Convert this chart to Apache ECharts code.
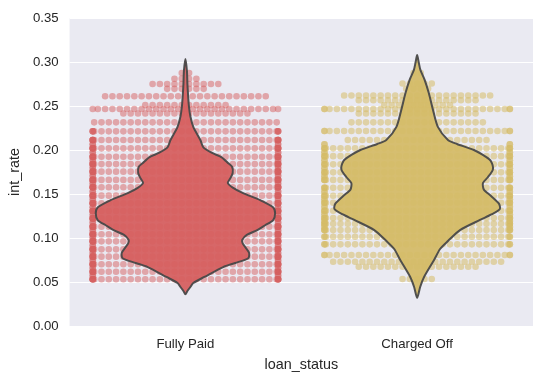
<!DOCTYPE html>
<html><head><meta charset="utf-8">
<script src="https://cdn.jsdelivr.net/npm/echarts@6/dist/echarts.min.js"></script>
<style>html,body{margin:0;padding:0;background:#fff}#c{width:542px;height:381px}</style>
</head><body><div id="c"></div>
<script>
// ---- data ----
const categories = ['Fully Paid', 'Charged Off'];
const yTicks = [0, 0.05, 0.10, 0.15, 0.20, 0.25, 0.30, 0.35];

// swarm rows: int_rate value of each row and number of points in it
const paidRowRates  = [0.2875, 0.281, 0.275, 0.2695, 0.261, 0.251, 0.2466, 0.2415, 0.2314,
  0.2212, 0.2114, 0.2019, 0.1924, 0.184, 0.1754, 0.166, 0.1576, 0.1481, 0.1394, 0.1307,
  0.1223, 0.1129, 0.1042, 0.0962, 0.0871, 0.0788, 0.0701, 0.0617, 0.0531];
const paidRowCounts = [2, 4, 10, 6, 23, 12, 27, 18, 26,
  32, 36, 36, 36, 36, 36, 36, 36, 36, 36, 36,
  36, 36, 36, 36, 36, 36, 36, 36, 36];
// points at in-between rates that the swarm pushed out to the band edges
const paidEdgeRates  = [0.2066, 0.1971, 0.1882, 0.1797, 0.1707, 0.1618, 0.1528, 0.1437, 0.135,
  0.1265, 0.1176, 0.1085, 0.1002, 0.0916, 0.083, 0.0745, 0.0659, 0.0574];
const paidEdgeCounts = [4, 4, 4, 4, 4, 4, 4, 4, 4, 4, 4, 4, 4, 4, 4, 4, 4, 4];

const chargedRowRates  = [0.2875, 0.2755, 0.2695, 0.262, 0.2565, 0.251, 0.2466, 0.2415, 0.2314,
  0.2216, 0.2114, 0.2019, 0.193, 0.1837, 0.1746, 0.166, 0.157, 0.148, 0.140, 0.131,
  0.1226, 0.1162, 0.109, 0.1015, 0.0928, 0.0807, 0.073, 0.0674, 0.0534];
const chargedRowCounts = [2, 5, 4, 21, 17, 10, 29, 17, 19,
  29, 20, 32, 32, 32, 32, 32, 32, 32, 32, 32,
  32, 32, 32, 30, 30, 29, 24, 17, 5];
const chargedEdgeRates  = [0.2066, 0.1975, 0.1884, 0.1792, 0.1703, 0.1525, 0.144, 0.1355,
  0.1268, 0.1194, 0.1126];
const chargedEdgeCounts = [4, 4, 4, 4, 4, 4, 4, 4, 4, 4, 4];

// violin outline: int_rate and half width (share of the category band)
const paidViolinRates  = [0.3034, 0.29, 0.275, 0.265, 0.25, 0.238, 0.226, 0.2114, 0.203, 0.1966,
  0.192, 0.185, 0.1807, 0.1739, 0.168, 0.1625, 0.157, 0.151, 0.143, 0.135, 0.128, 0.120,
  0.1145, 0.109, 0.1035, 0.0977, 0.094, 0.0898, 0.083, 0.077, 0.0716, 0.067, 0.0557,
  0.0489, 0.0443, 0.0398, 0.036];
const paidViolinWidths = [0, 0.0065, 0.0086, 0.0108, 0.015, 0.0215, 0.0344, 0.0645, 0.0774, 0.116,
  0.155, 0.185, 0.202, 0.204, 0.194, 0.183, 0.206, 0.249, 0.323, 0.378, 0.387, 0.378,
  0.344, 0.31, 0.265, 0.245, 0.247, 0.258, 0.275, 0.271, 0.215, 0.163, 0.082,
  0.034, 0.0215, 0.0086, 0];

const chargedViolinRates  = [0.308, 0.30, 0.291, 0.28, 0.265, 0.245, 0.226, 0.2114, 0.2068, 0.20,
  0.1922, 0.1875, 0.178, 0.169, 0.1625, 0.155, 0.148, 0.139, 0.133, 0.127, 0.1205,
  0.109, 0.0966, 0.0875, 0.075, 0.0557, 0.0443, 0.032];
const chargedViolinWidths = [0, 0.0065, 0.014, 0.032, 0.05, 0.069, 0.09, 0.133, 0.172, 0.245,
  0.297, 0.318, 0.327, 0.305, 0.284, 0.288, 0.318, 0.353, 0.357, 0.323, 0.271,
  0.185, 0.133, 0.099, 0.073, 0.030, 0.013, 0];

// ---- chart ----
const violinRates = [paidViolinRates, chargedViolinRates];
const violinWidths = [paidViolinWidths, chargedViolinWidths];
const fills = ['#d65f5f', '#d5bb67'];
const pointColors = ['rgba(214,95,95,0.5)', 'rgba(213,187,103,0.55)'];

function rowsData(cat, rates, counts, edgeRates, edgeCounts) {
  return rates.map((r, i) => [cat, r, counts[i], 0])
    .concat(edgeRates.map((r, i) => [cat, r, edgeCounts[i], 1]));
}

function swarmRender(params, api) {
  const cat = api.value(0), rate = api.value(1), n = api.value(2), edgeOnly = api.value(3);
  const c = api.coord([cat, rate]);
  const band = api.size([1, 0])[0];
  const half = band * 0.4;
  const step = 7.3;
  const children = [];
  for (let i = 0; i < n; i++) {
    let off;
    if (edgeOnly) {
      off = (i % 2 === 0) ? half : -half;
    } else {
      off = (i - (n - 1) / 2) * step;
      if (off > half) off = half;
      if (off < -half) off = -half;
    }
    children.push({
      type: 'circle',
      shape: { cx: c[0] + off, cy: c[1], r: 3.3 },
      style: { fill: pointColors[cat] }
    });
  }
  return { type: 'group', children };
}

function violinRender(params, api) {
  const cat = api.value(0);
  const rates = violinRates[cat], widths = violinWidths[cat];
  const band = api.size([1, 0])[0];
  const pts = [];
  for (let i = 0; i < rates.length; i++) {
    const p = api.coord([cat, rates[i]]);
    pts.push([p[0] + widths[i] * band, p[1]]);
  }
  for (let i = rates.length - 2; i > 0; i--) {
    const p = api.coord([cat, rates[i]]);
    pts.push([p[0] - widths[i] * band, p[1]]);
  }
  return {
    type: 'polygon',
    shape: { points: pts, smooth: 0.25 },
    style: { fill: fills[cat], opacity: 0.94, stroke: '#474747', lineWidth: 2 }
  };
}

const chart = echarts.init(document.getElementById('c'), null, { renderer: 'canvas' });
chart.setOption({
  animation: false,
  backgroundColor: '#ffffff',
  textStyle: { fontFamily: 'Liberation Sans, Arial, sans-serif' },
  grid: { left: 68, right: 9, top: 18, bottom: 55, show: true, backgroundColor: '#eaeaf2', borderWidth: 0 },
  xAxis: {
    type: 'category', data: categories,
    axisLine: { show: false }, axisTick: { show: false }, splitLine: { show: false },
    axisLabel: { color: '#262626', fontSize: 13.2, margin: 12 },
    name: 'loan_status', nameLocation: 'middle', nameGap: 32,
    nameTextStyle: { color: '#262626', fontSize: 14.4 }
  },
  yAxis: {
    type: 'value', min: yTicks[0], max: yTicks[yTicks.length - 1], interval: 0.05,
    axisLine: { show: false }, axisTick: { show: false },
    splitLine: { show: true, lineStyle: { color: '#ffffff', width: 1.2 } },
    axisLabel: { color: '#262626', fontSize: 13.2, margin: 11, formatter: v => v.toFixed(2) },
    name: 'int_rate', nameLocation: 'middle', nameGap: 44, nameRotate: 90,
    nameTextStyle: { color: '#262626', fontSize: 14.4 }
  },
  series: [
    { type: 'custom', renderItem: swarmRender, data: rowsData(0, paidRowRates, paidRowCounts, paidEdgeRates, paidEdgeCounts), encode: { x: 0, y: 1 }, z: 2 },
    { type: 'custom', renderItem: swarmRender, data: rowsData(1, chargedRowRates, chargedRowCounts, chargedEdgeRates, chargedEdgeCounts), encode: { x: 0, y: 1 }, z: 2 },
    { type: 'custom', renderItem: violinRender, data: [[0, 0.15], [1, 0.15]], encode: { x: 0, y: 1 }, z: 3 }
  ]
});
</script></body></html>
